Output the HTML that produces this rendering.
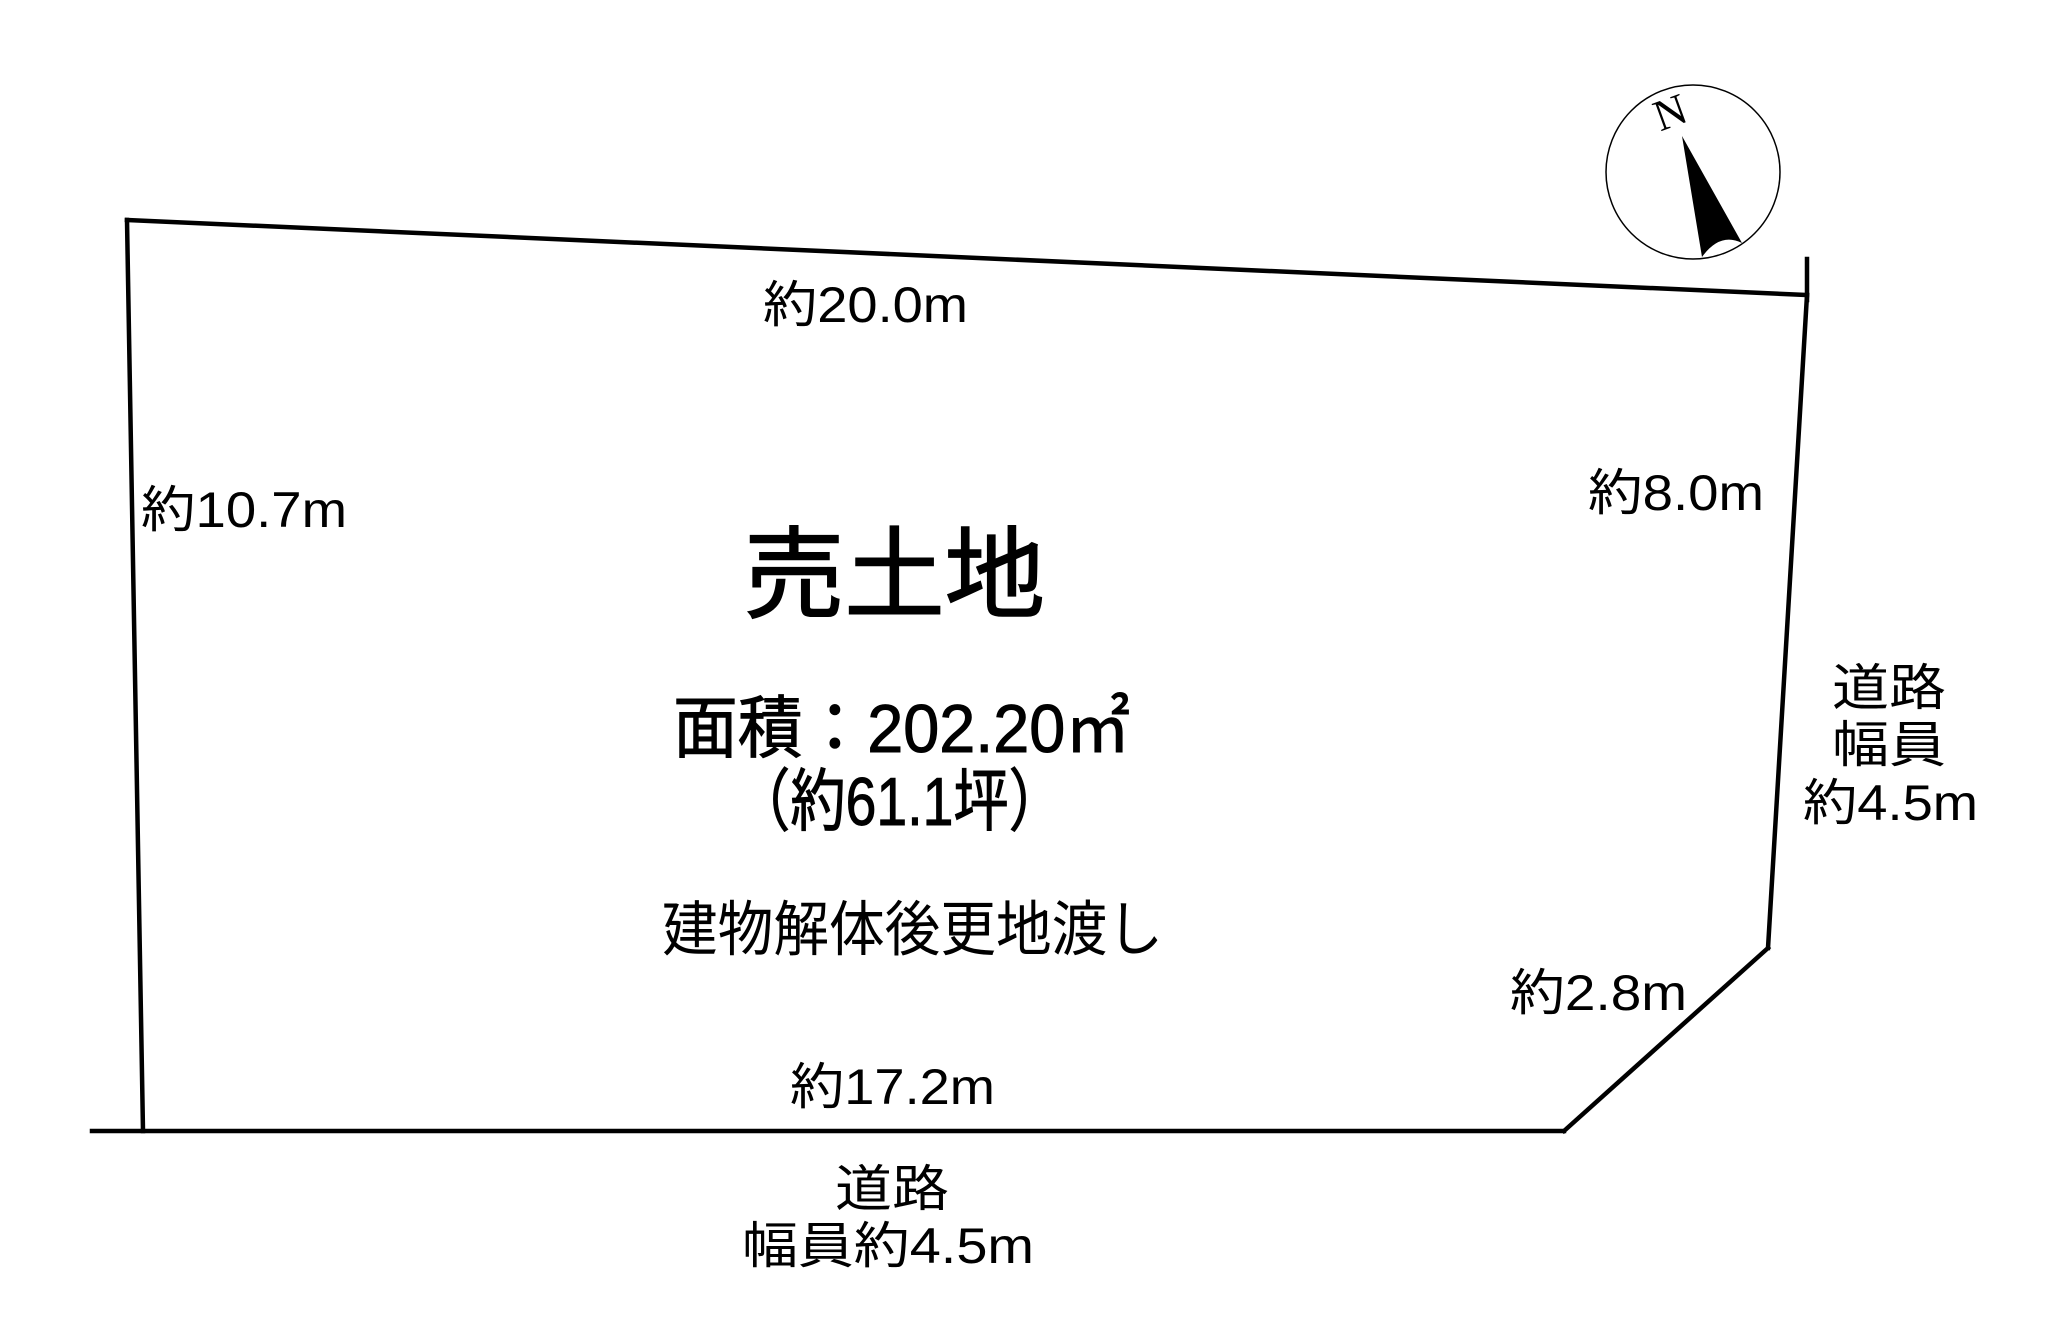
<!DOCTYPE html>
<html><head><meta charset="utf-8"><style>html,body{margin:0;padding:0;background:#fff;}svg{display:block}</style></head>
<body>
<svg width="2068" height="1330" viewBox="0 0 2068 1330" xmlns="http://www.w3.org/2000/svg">
<g stroke="#000" stroke-width="4.5" fill="none" stroke-linecap="square">
<line x1="127" y1="220" x2="1807" y2="295"/>
<line x1="1807" y1="259" x2="1807" y2="300"/>
<line x1="127" y1="220" x2="143" y2="1131"/>
<line x1="1807" y1="295" x2="1768" y2="948"/>
<line x1="1768" y1="948" x2="1564" y2="1131"/>
<line x1="92" y1="1131" x2="1564" y2="1131"/>
</g>
<circle cx="1693" cy="172" r="87" fill="none" stroke="#000" stroke-width="1.5"/>
<path d="M1682,136 L1742,243 Q1720,232 1702,257 Z" fill="#000"/>
<text x="1670" y="127" font-family="Liberation Serif, serif" font-size="44" text-anchor="middle" transform="rotate(-20 1670 112)">N</text>
<g font-family="Liberation Sans, Noto Sans CJK JP, sans-serif" fill="#000" dominant-baseline="central">
<text x="763" y="305" font-size="50" textLength="205" lengthAdjust="spacingAndGlyphs">約20.0m</text>
<text x="141" y="510" font-size="50" textLength="206" lengthAdjust="spacingAndGlyphs">約10.7m</text>
<text x="1588" y="493" font-size="50" textLength="176" lengthAdjust="spacingAndGlyphs">約8.0m</text>
<text x="744" y="576" font-size="100" stroke="#000" stroke-width="1.5" textLength="301" lengthAdjust="spacingAndGlyphs">売土地</text>
<text x="673" y="729" font-size="68" stroke="#000" stroke-width="1" textLength="457" lengthAdjust="spacingAndGlyphs">面積：202.20㎡</text>
<text x="735" y="802" font-size="68" stroke="#000" stroke-width="1" textLength="329" lengthAdjust="spacingAndGlyphs">（約61.1坪）</text>
<text x="662" y="930" font-size="60" textLength="501" lengthAdjust="spacingAndGlyphs">建物解体後更地渡し</text>
<text x="1510" y="993" font-size="50" textLength="177" lengthAdjust="spacingAndGlyphs">約2.8m</text>
<text x="790" y="1087" font-size="50" textLength="205" lengthAdjust="spacingAndGlyphs">約17.2m</text>
<text x="835" y="1189" font-size="50" textLength="114" lengthAdjust="spacingAndGlyphs">道路</text>
<text x="742" y="1246" font-size="50" textLength="292" lengthAdjust="spacingAndGlyphs">幅員約4.5m</text>
<text x="1832" y="688" font-size="50" textLength="114" lengthAdjust="spacingAndGlyphs">道路</text>
<text x="1832" y="745" font-size="50" textLength="114" lengthAdjust="spacingAndGlyphs">幅員</text>
<text x="1803" y="803" font-size="50" textLength="175" lengthAdjust="spacingAndGlyphs">約4.5m</text>
</g>
</svg>
</body></html>
